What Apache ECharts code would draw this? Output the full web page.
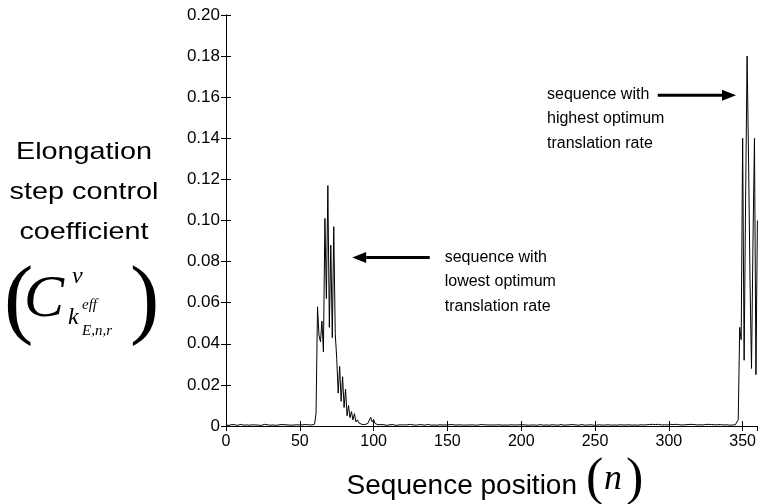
<!DOCTYPE html>
<html>
<head>
<meta charset="utf-8">
<script src="https://cdn.jsdelivr.net/npm/echarts@6/dist/echarts.min.js"></script>
<style>
  html, body { margin: 0; padding: 0; background: #fff; }
  #chart { width: 759px; height: 504px; }
</style>
</head>
<body>
<div id="chart"></div>
<script>
// Sequence positions run from 0 to 360; one coefficient per position.
const positionRange = [0, 360];
const positionStep = 50;
const coeffRange = [0, 0.2];
const coeffStep = 0.02;

// Elongation step control coefficient at each sequence position n = 0 .. 360
const coefficient = [
  /*   0 */ 0.0004,0.0006,0.0003,0.0005,0.0007,0.0004,0.0006,0.0005,0.0003,0.0006,
  /*  10 */ 0.0008,0.0005,0.0004,0.0006,0.0005,0.0007,0.0004,0.0005,0.0006,0.0003,
  /*  20 */ 0.0005,0.0007,0.0004,0.0006,0.0003,0.0005,0.0008,0.0004,0.0006,0.0005,
  /*  30 */ 0.0004,0.0006,0.0005,0.0007,0.0003,0.0005,0.0006,0.0004,0.0007,0.0005,
  /*  40 */ 0.0006,0.0004,0.0005,0.0008,0.0004,0.0006,0.0005,0.0003,0.0006,0.0007,
  /*  50 */ 0.0005,0.0004,0.0006,0.0005,0.0007,0.0004,0.0006,0.0008,0.0005,0.0007,
  /*  60 */ 0.0009,0.006,0.058,0.044,0.041,0.051,0.036,0.101,0.062,0.117,
  /*  70 */ 0.048,0.088,0.043,0.097,0.045,0.033,0.016,0.029,0.012,0.024,
  /*  80 */ 0.009,0.018,0.005,0.010,0.004,0.007,0.003,0.006,0.002,0.003,
  /*  90 */ 0.0015,0.0012,0.0008,0.0010,0.0007,0.0009,0.0012,0.0018,0.0042,0.0020,
  /* 100 */ 0.0032,0.0012,0.0008,0.0006,0.0005,0.0007,0.0004,0.0006,0.0005,0.0003,
  /* 110 */ 0.0005,0.0006,0.0004,0.0007,0.0005,0.0003,0.0006,0.0005,0.0004,0.0006,
  /* 120 */ 0.0007,0.0005,0.0004,0.0006,0.0005,0.0008,0.0004,0.0005,0.0006,0.0004,
  /* 130 */ 0.0005,0.0007,0.0004,0.0006,0.0005,0.0004,0.0006,0.0008,0.0005,0.0004,
  /* 140 */ 0.0006,0.0005,0.0007,0.0004,0.0005,0.0006,0.0004,0.0005,0.0007,0.0005,
  /* 150 */ 0.0004,0.0006,0.0005,0.0007,0.0004,0.0005,0.0006,0.0005,0.0004,0.0006,
  /* 160 */ 0.0005,0.0004,0.0006,0.0005,0.0007,0.0005,0.0004,0.0006,0.0005,0.0004,
  /* 170 */ 0.0006,0.0005,0.0004,0.0007,0.0005,0.0006,0.0004,0.0005,0.0006,0.0005,
  /* 180 */ 0.0004,0.0005,0.0007,0.0005,0.0004,0.0006,0.0005,0.0004,0.0006,0.0005,
  /* 190 */ 0.0007,0.0004,0.0005,0.0006,0.0004,0.0005,0.0007,0.0005,0.0004,0.0006,
  /* 200 */ 0.0005,0.0006,0.0004,0.0005,0.0007,0.0004,0.0006,0.0005,0.0004,0.0005,
  /* 210 */ 0.0006,0.0004,0.0005,0.0007,0.0005,0.0004,0.0006,0.0005,0.0007,0.0004,
  /* 220 */ 0.0005,0.0006,0.0004,0.0005,0.0006,0.0004,0.0005,0.0007,0.0005,0.0004,
  /* 230 */ 0.0006,0.0005,0.0004,0.0006,0.0005,0.0007,0.0004,0.0005,0.0006,0.0004,
  /* 240 */ 0.0005,0.0007,0.0005,0.0004,0.0006,0.0005,0.0008,0.0006,0.0005,0.0004,
  /* 250 */ 0.0006,0.0004,0.0005,0.0006,0.0005,0.0004,0.0007,0.0005,0.0004,0.0006,
  /* 260 */ 0.0005,0.0004,0.0006,0.0005,0.0007,0.0004,0.0005,0.0006,0.0004,0.0005,
  /* 270 */ 0.0007,0.0005,0.0004,0.0006,0.0005,0.0004,0.0006,0.0005,0.0007,0.0004,
  /* 280 */ 0.0005,0.0006,0.0004,0.0005,0.0008,0.0006,0.0005,0.0007,0.0006,0.0008,
  /* 290 */ 0.0006,0.0007,0.0005,0.0008,0.0006,0.0005,0.0007,0.0006,0.0008,0.0005,
  /* 300 */ 0.0006,0.0008,0.0005,0.0007,0.0006,0.0008,0.0005,0.0006,0.0007,0.0005,
  /* 310 */ 0.0008,0.0006,0.0005,0.0007,0.0006,0.0008,0.0005,0.0007,0.0006,0.0005,
  /* 320 */ 0.0007,0.0006,0.0008,0.0005,0.0006,0.0007,0.0005,0.0008,0.0006,0.0007,
  /* 330 */ 0.0005,0.0006,0.0008,0.0006,0.0005,0.0007,0.0006,0.0005,0.0007,0.0006,
  /* 340 */ 0.0005,0.0004,0.0006,0.0005,0.0007,0.0006,0.0008,0.003,0.048,0.042,
  /* 350 */ 0.14,0.032,0.11,0.18,0.13,0.07,0.028,0.09,0.14,0.025,
  /* 360 */ 0.10
];

// Callout texts and where their arrows point (in data units)
const lowLabel = ['sequence with', 'lowest optimum', 'translation rate'];
const highLabel = ['sequence with', 'highest optimum', 'translation rate'];
const lowArrow = { from: [138, 0.082], to: [85.5, 0.082] };
const highArrow = { from: [292.5, 0.161], to: [345.5, 0.161] };

const SANS = '"Liberation Sans", Arial, Helvetica, sans-serif';
const SERIF = '"Liberation Serif", "Times New Roman", Times, serif';

const chart = echarts.init(document.getElementById('chart'), null, { renderer: 'canvas' });

const frameLine = { show: true, lineStyle: { color: '#000', width: 1 } };
const innerTick = { show: true, inside: true, length: 5, lineStyle: { color: '#000', width: 1 } };

function xAxisDef(position, showLabel) {
  return {
    type: 'value', position: position,
    min: positionRange[0], max: positionRange[1], interval: positionStep,
    axisLine: frameLine, axisTick: innerTick,
    axisLabel: {
      show: showLabel, color: '#000', fontSize: 16, fontFamily: SANS,
      margin: 8, showMaxLabel: false
    },
    splitLine: { show: false }
  };
}
function yAxisDef(position, showLabel) {
  return {
    type: 'value', position: position,
    min: coeffRange[0], max: coeffRange[1], interval: coeffStep,
    axisLine: frameLine, axisTick: innerTick,
    axisLabel: {
      show: showLabel, color: '#000', fontSize: 17, fontFamily: SANS, margin: 6,
      formatter: v => (v === 0 ? '0' : v.toFixed(2))
    },
    splitLine: { show: false }
  };
}

chart.setOption({
  animation: false,
  backgroundColor: '#fff',
  grid: { left: 226, right: 1, top: 15, bottom: 78, containLabel: false },
  xAxis: [xAxisDef('bottom', true), xAxisDef('top', false)],
  yAxis: [yAxisDef('left', true), yAxisDef('right', false)],
  series: [{
    type: 'line',
    xAxisIndex: 0, yAxisIndex: 0,
    data: coefficient.map((v, n) => [n, v]),
    showSymbol: false,
    lineStyle: { color: '#000', width: 1 },
    silent: true
  }]
});

// ---- titles and callouts ----
const px = p => chart.convertToPixel({ xAxisIndex: 0, yAxisIndex: 0 }, p);

function arrow(spec) {
  const a = px(spec.from), b = px(spec.to);
  const dir = Math.sign(b[0] - a[0]);
  const headLen = 14, headHalf = 5.5;
  const baseX = b[0] - dir * headLen;
  return [
    { type: 'line', shape: { x1: a[0], y1: a[1], x2: baseX, y2: b[1] },
      style: { stroke: '#000', lineWidth: 3 } },
    { type: 'polygon', shape: { points: [[b[0], b[1]], [baseX, b[1] - headHalf], [baseX, b[1] + headHalf]] },
      style: { fill: '#000' } }
  ];
}
function textBlock(lines, x, y0, gap) {
  return lines.map((s, i) => ({
    type: 'text',
    style: { text: s, x: x, y: y0 + i * gap, fill: '#000', font: '16px ' + SANS,
             textAlign: 'left', textVerticalAlign: 'middle' }
  }));
}

const lowTip = px(lowArrow.to), lowTail = px(lowArrow.from);
const highTip = px(highArrow.to);

// text piece anchored at its bottom-left corner
function piece(text, x, y, font) {
  return {
    type: 'text',
    style: { text: text, x: x, y: y, fill: '#000', font: font,
             textAlign: 'left', textVerticalAlign: 'bottom' }
  };
}
const serif = size => size + 'px ' + SERIF;
const serifItalic = size => 'italic ' + size + 'px ' + SERIF;

const yTitle = [
  { text: 'Elongation', y: 164 },
  { text: 'step control', y: 204 },
  { text: 'coefficient', y: 244 }
].map(o => ({
  type: 'text', x: 84, y: o.y, scaleX: 1.2, scaleY: 1,
  style: { text: o.text, x: 0, y: 0, fill: '#000', font: '24px ' + SANS,
           textAlign: 'center', textVerticalAlign: 'bottom' }
}));

const yMath = [
  piece('(', 4, 348, serif(88)),
  piece('C', 24, 330, serifItalic(60)),
  piece('v', 72, 289, serifItalic(24)),
  piece('k', 68, 330, serifItalic(24)),
  piece('eff', 82, 313, serifItalic(15)),
  piece('E,n,r', 82, 339, serifItalic(15)),
  piece(')', 130, 348, serif(88))
];

const xTitle = [
  { type: 'text', style: { text: 'Sequence position', x: 577, y: 500, fill: '#000',
      font: '28px ' + SANS, textAlign: 'right', textVerticalAlign: 'bottom' } },
  piece('(', 586, 506, serif(52)),
  piece('n', 604, 498, serifItalic(36)),
  piece(')', 626, 506, serif(52))
];

chart.setOption({
  graphic: [].concat(
    arrow(lowArrow), arrow(highArrow),
    textBlock(lowLabel, lowTail[0] + 15, lowTip[1], 24.5),
    textBlock(highLabel, 547, highTip[1] - 1, 24.5),
    yTitle, yMath, xTitle
  )
});
</script>
</body>
</html>
